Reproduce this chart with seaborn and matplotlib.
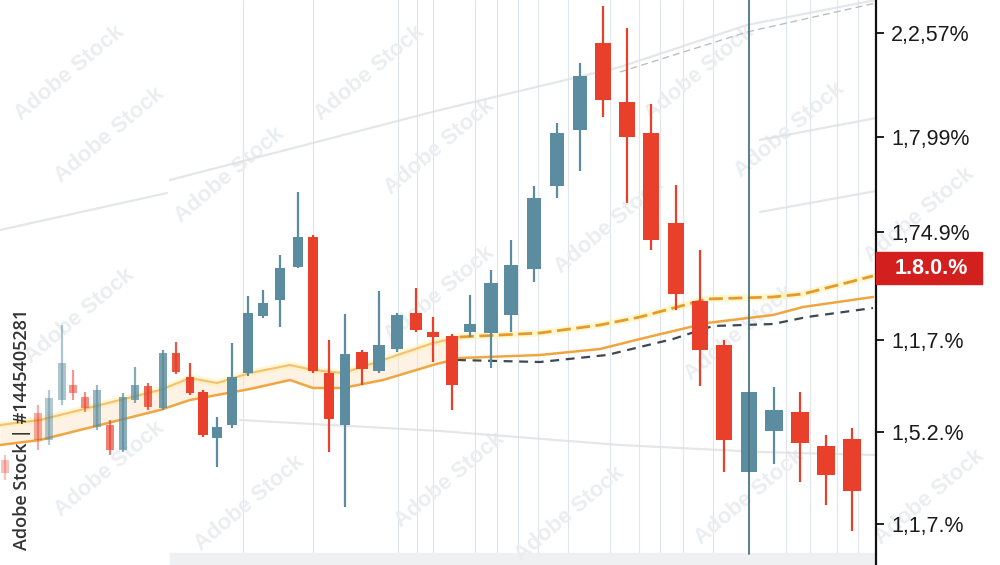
import numpy as np
import pandas as pd
import seaborn as sns
import matplotlib.pyplot as plt
from matplotlib.patches import Rectangle
import matplotlib.transforms as mtransforms

# candle positions (time axis) and OHLC values
t = [5, 38, 49, 62, 73, 85, 97, 110, 123, 135, 148, 163, 176, 190, 203, 217,
     232, 248, 263, 280, 298, 313, 329, 345, 362, 379, 397, 416, 433, 452,
     470, 491, 511, 534, 557, 580, 603, 627, 651, 676, 700, 724, 749, 774,
     800, 826, 852]
open_ = [1.05, 1.52, 1.25, 1.65, 1.80, 1.68, 1.38, 1.40, 1.15, 1.65, 1.79, 1.57,
         2.12, 1.88, 1.73, 1.27, 1.40, 1.92, 2.49, 2.65, 2.98, 3.28, 1.92, 1.40,
         2.13, 1.94, 2.16, 2.52, 2.33, 2.29, 2.33, 2.32, 2.50, 2.96, 3.79, 4.35,
         5.22, 4.63, 4.32, 3.42, 2.64, 2.20, 0.93, 1.34, 1.53, 1.19, 1.26]
close = [0.92, 1.25, 1.67, 2.02, 1.72, 1.57, 1.75, 1.15, 1.68, 1.80, 1.58, 2.12,
         1.93, 1.72, 1.30, 1.38, 1.88, 2.52, 2.62, 2.97, 3.28, 1.94, 1.46, 2.11,
         1.96, 2.20, 2.50, 2.35, 2.28, 1.80, 2.41, 2.82, 3.00, 3.67, 4.32, 4.89,
         4.65, 4.28, 3.25, 2.71, 2.15, 1.25, 1.73, 1.55, 1.22, 0.90, 0.74]
high = [1.10, 1.60, 1.75, 2.40, 1.95, 1.73, 1.80, 1.45, 1.72, 1.98, 1.82, 2.15,
        2.23, 2.02, 1.75, 1.48, 2.22, 2.69, 2.75, 3.10, 3.73, 3.30, 2.25, 2.51,
        2.15, 2.74, 2.52, 2.77, 2.48, 2.31, 2.70, 2.95, 3.25, 3.79, 4.42, 5.02,
        5.59, 5.37, 4.61, 3.80, 3.15, 2.25, 1.73, 1.78, 1.73, 1.30, 1.37]
low = [0.85, 1.15, 1.20, 1.60, 1.65, 1.53, 1.35, 1.10, 1.13, 1.62, 1.55, 1.55,
       1.91, 1.70, 1.28, 0.98, 1.37, 1.89, 2.47, 2.38, 2.97, 1.92, 1.13, 0.58,
       1.80, 1.92, 2.13, 2.33, 2.03, 1.55, 2.28, 1.97, 2.33, 2.83, 3.67, 3.94,
       4.48, 3.62, 3.15, 2.55, 1.79, 0.93, 0.93, 1.01, 0.83, 0.60, 0.34]

# moving averages
ma_x = [0, 40, 100, 160, 190, 217, 250, 290, 313, 343, 383, 433, 460, 540,
        600, 640, 707, 773, 803, 873]
ma_fast = [1.40, 1.45, 1.60, 1.75, 1.87, 1.82, 1.92, 2.00, 1.95, 1.92, 2.05,
           2.22, 2.28, 2.32, 2.40, 2.48, 2.66, 2.68, 2.71, 2.89]
ma_slow = [1.20, 1.25, 1.40, 1.55, 1.65, 1.70, 1.76, 1.85, 1.77, 1.77, 1.85,
           2.00, 2.07, 2.10, 2.16, 2.26, 2.42, 2.50, 2.58, 2.68]
base_x = [457, 540, 607, 673, 713, 773, 807, 873]
base_y = [2.05, 2.03, 2.10, 2.26, 2.39, 2.41, 2.48, 2.57]

# faint background trend lines
bg_lines = {
    "a": ([170, 440, 620, 747, 876], [3.85, 4.55, 4.98, 5.40, 5.65]),
    "c": ([0, 167], [3.35, 3.72]),
    "d": ([760, 876], [4.25, 4.47]),
    "e": ([760, 876], [3.53, 3.74]),
    "f": ([240, 440, 620, 760, 876], [1.45, 1.34, 1.20, 1.13, 1.10]),
}
bg_dashed_x = [620, 747, 876]
bg_dashed_y = [4.93, 5.33, 5.62]

grid_x = [243, 313, 398, 417, 433, 475, 497, 518, 538, 568, 610, 639, 660,
          683, 713, 786, 810, 837, 858]

tick_vals = [5.32, 4.28, 3.33, 2.25, 1.33, 0.41]
tick_labels = ["2,2,57%", "1,7,99%", "1,74.9%", "1,1,7.%", "1,5.2.%", "1,1,7.%"]
last_val = 2.97
last_label = "1.8.0.%"
cross_t = 749

# watermark spots (figure fractions)
wm_x = [0.07, 0.37, 0.70, 0.11, 0.44, 0.79, 0.23, 0.61, 0.92,
        0.08, 0.44, 0.74, 0.11, 0.45, 0.25, 0.57, 0.75, 0.93]
wm_y = [0.87, 0.87, 0.87, 0.76, 0.74, 0.77, 0.69, 0.60, 0.62,
        0.44, 0.48, 0.41, 0.17, 0.15, 0.11, 0.09, 0.12, 0.12]

sns.set_theme(style="white")
plt.rcParams['font.family'] = ['Liberation Sans', 'DejaVu Sans']

fig = plt.figure(figsize=(10, 5.65), dpi=100)
ax = fig.add_axes([0, 0, 0.876, 1])
ax.set_xlim(0, 876)
ax.set_ylim(0, 5.65)

for wx, wy in zip(wm_x, wm_y):
    ax.text(wx, wy, "Adobe Stock", rotation=40, fontsize=16, color="#ebeef1",
            ha="center", va="center", fontweight="bold", transform=fig.transFigure,
            zorder=0.5)

for gx in grid_x:
    ax.axvline(gx, color="#dfe5e9", lw=0.8, zorder=0)
ax.axhspan(0, 0.12, xmin=170 / 876, color="#eef0f1", zorder=0)

for k, (bx, by) in bg_lines.items():
    ax.plot(bx, by, color="#dde2e5", lw=1.6, alpha=0.8, zorder=1)
ax.plot(bg_dashed_x, bg_dashed_y, color="#b8c0c6", lw=1.0, ls=(0, (5, 3)), zorder=1)

# moving average band
ma = pd.DataFrame({"t": ma_x, "fast": ma_fast, "slow": ma_slow})
left = ma[ma.t <= 460]
right = ma[ma.t >= 440]
ax.fill_between(left.t, left.slow, left.fast, color="#fbe3c4", alpha=0.45, lw=0, zorder=1)
sns.lineplot(data=ma, x="t", y="fast", ax=ax, color="#fff2b0", lw=5, alpha=0.6, zorder=1)
sns.lineplot(data=left, x="t", y="fast", ax=ax, color="#f3b25e", lw=1.5, alpha=0.8, zorder=2)
sns.lineplot(data=right, x="t", y="fast", ax=ax, color="#e69a2e", lw=2.0,
             linestyle=(0, (5, 2)), zorder=2)
sns.lineplot(data=ma, x="t", y="slow", ax=ax, color="#f0a640", lw=1.8, zorder=2)
sns.lineplot(x=base_x, y=base_y, ax=ax, color="#3d4852", lw=1.6,
             linestyle=(0, (4, 3)), zorder=2)

# candles
cd = pd.DataFrame({"t": t, "open": open_, "close": close, "high": high, "low": low})
cd["up"] = cd.close >= cd.open
width = np.interp(cd.t, [0, 300, 600, 860], [7, 10, 15, 18])
alpha = np.interp(cd.t, [0, 170, 200], [0.3, 0.85, 1.0])
blue, red = "#5b8c9f", "#e8402b"
for i, r in cd.iterrows():
    c = blue if r.up else red
    ax.vlines(r.t, r.low, r.high, color=c, lw=1.6, alpha=alpha[i], zorder=3)
    ax.bar(r.t, abs(r.close - r.open), bottom=min(r.open, r.close), width=width[i],
           color=c, alpha=alpha[i], lw=0, zorder=4)

ax.axvline(cross_t, ymin=0.02, color="#4d7282", lw=1.3, zorder=5)

# right price axis
for s in ["left", "top", "bottom"]:
    ax.spines[s].set_visible(False)
ax.spines["right"].set_color("#111111")
ax.spines["right"].set_linewidth(1.6)
ax.set_xticks([])
ax.yaxis.tick_right()
ax.set_yticks(tick_vals)
ax.set_yticklabels(tick_labels)
ax.tick_params(axis="y", right=True, length=6, width=1.3, color="#111111",
               pad=5, labelsize=15.5, labelcolor="#1a1a1a")
ax.set_xlabel("")
ax.set_ylabel("")

trans = mtransforms.blended_transform_factory(ax.transAxes, ax.transData)
ax.add_patch(Rectangle((1.0, last_val - 0.16), 106 / 876, 0.32, transform=trans,
                       color="#d41f1f", clip_on=False, zorder=6))
ax.text(1.0 + 19 / 876, last_val, last_label, transform=trans, color="white",
        fontsize=15.5, fontweight="bold", va="center", ha="left", zorder=7)

fig.text(0.022, 0.027, "Adobe Stock | #1445405281", rotation=90, fontsize=13,
         color="#333333", ha="center", va="bottom", family=["Open Sans", "DejaVu Sans"],
         fontweight="semibold")

fig.savefig("out.png", dpi=100)
